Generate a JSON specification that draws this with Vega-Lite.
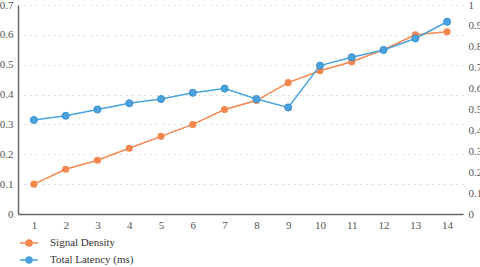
{
  "$schema": "https://vega.github.io/schema/vega-lite/v6.json",
  "width": 445,
  "height": 209,
  "autosize": {"type": "none"},
  "padding": {"left": 18, "top": 5, "right": 17, "bottom": 53},
  "background": "white",
  "config": {
    "font": "'Liberation Serif', serif",
    "view": {"stroke": null},
    "axis": {"labelFont": "'Liberation Serif', serif", "labelFontSize": 11, "labelColor": "#555555", "ticks": false, "title": null},
    "legend": {"labelFont": "'Liberation Serif', serif", "labelFontSize": 11, "labelColor": "#333333"}
  },
  "data": {
    "values": [
      {"x": 1, "series": "Signal Density", "value": 0.10},
      {"x": 2, "series": "Signal Density", "value": 0.15},
      {"x": 3, "series": "Signal Density", "value": 0.18},
      {"x": 4, "series": "Signal Density", "value": 0.22},
      {"x": 5, "series": "Signal Density", "value": 0.26},
      {"x": 6, "series": "Signal Density", "value": 0.30},
      {"x": 7, "series": "Signal Density", "value": 0.35},
      {"x": 8, "series": "Signal Density", "value": 0.38},
      {"x": 9, "series": "Signal Density", "value": 0.44},
      {"x": 10, "series": "Signal Density", "value": 0.48},
      {"x": 11, "series": "Signal Density", "value": 0.51},
      {"x": 12, "series": "Signal Density", "value": 0.55},
      {"x": 13, "series": "Signal Density", "value": 0.60},
      {"x": 14, "series": "Signal Density", "value": 0.61},
      {"x": 1, "series": "Total Latency (ms)", "value": 0.45},
      {"x": 2, "series": "Total Latency (ms)", "value": 0.47},
      {"x": 3, "series": "Total Latency (ms)", "value": 0.50},
      {"x": 4, "series": "Total Latency (ms)", "value": 0.53},
      {"x": 5, "series": "Total Latency (ms)", "value": 0.55},
      {"x": 6, "series": "Total Latency (ms)", "value": 0.58},
      {"x": 7, "series": "Total Latency (ms)", "value": 0.60},
      {"x": 8, "series": "Total Latency (ms)", "value": 0.55},
      {"x": 9, "series": "Total Latency (ms)", "value": 0.51},
      {"x": 10, "series": "Total Latency (ms)", "value": 0.71},
      {"x": 11, "series": "Total Latency (ms)", "value": 0.75},
      {"x": 12, "series": "Total Latency (ms)", "value": 0.785},
      {"x": 13, "series": "Total Latency (ms)", "value": 0.84},
      {"x": 14, "series": "Total Latency (ms)", "value": 0.92}
    ]
  },
  "encoding": {
    "x": {
      "field": "x", "type": "ordinal",
      "scale": {"type": "point", "padding": 0.5},
      "axis": {"labelAngle": 0, "domainColor": "#6e6470", "domainWidth": 1.5, "labelPadding": 5}
    },
    "color": {
      "field": "series", "type": "nominal",
      "scale": {"domain": ["Signal Density", "Total Latency (ms)"], "range": ["#f4874f", "#4aa3df"]},
      "legend": {
        "title": null, "orient": "none", "legendX": 1, "legendY": 228,
        "symbolType": "M -1 0 L 1 0 M 0.34 0 A 0.34 0.34 0 1 1 -0.34 0 A 0.34 0.34 0 1 1 0.34 0",
        "symbolSize": 324, "symbolStrokeWidth": 1.5, "rowPadding": 0, "labelOffset": 11,
        "encode": {"symbols": {"update": {"fill": {"scale": "color", "field": "value"}, "stroke": {"scale": "color", "field": "value"}}}}
      }
    }
  },
  "layer": [
    {
      "transform": [{"filter": "datum.series === 'Signal Density'"}],
      "mark": {"type": "line", "strokeWidth": 1.5, "point": {"filled": true, "size": 50}},
      "encoding": {
        "y": {
          "field": "value", "type": "quantitative",
          "scale": {"domain": [0, 0.7], "nice": false},
          "axis": {"values": [0, 0.1, 0.2, 0.3, 0.4, 0.5, 0.6, 0.7], "format": ".1~f", "domainColor": "#6e6470", "domainWidth": 1.5, "grid": true, "gridColor": "#bbbbbb", "gridDash": [1, 5], "gridWidth": 1.2, "labelPadding": 5}
        }
      }
    },
    {
      "transform": [{"filter": "datum.series === 'Total Latency (ms)'"}],
      "mark": {"type": "line", "strokeWidth": 1.5, "point": {"filled": true, "size": 50, "stroke": "#3a8fd0", "strokeWidth": 1}},
      "encoding": {
        "y": {
          "field": "value", "type": "quantitative",
          "scale": {"domain": [0, 1], "nice": false},
          "axis": {"orient": "right", "values": [0, 0.1, 0.2, 0.3, 0.4, 0.5, 0.6, 0.7, 0.8, 0.9, 1], "format": ".1~f", "domain": false, "grid": false, "labelPadding": 5}
        }
      }
    }
  ],
  "resolve": {"scale": {"y": "independent"}}
}
